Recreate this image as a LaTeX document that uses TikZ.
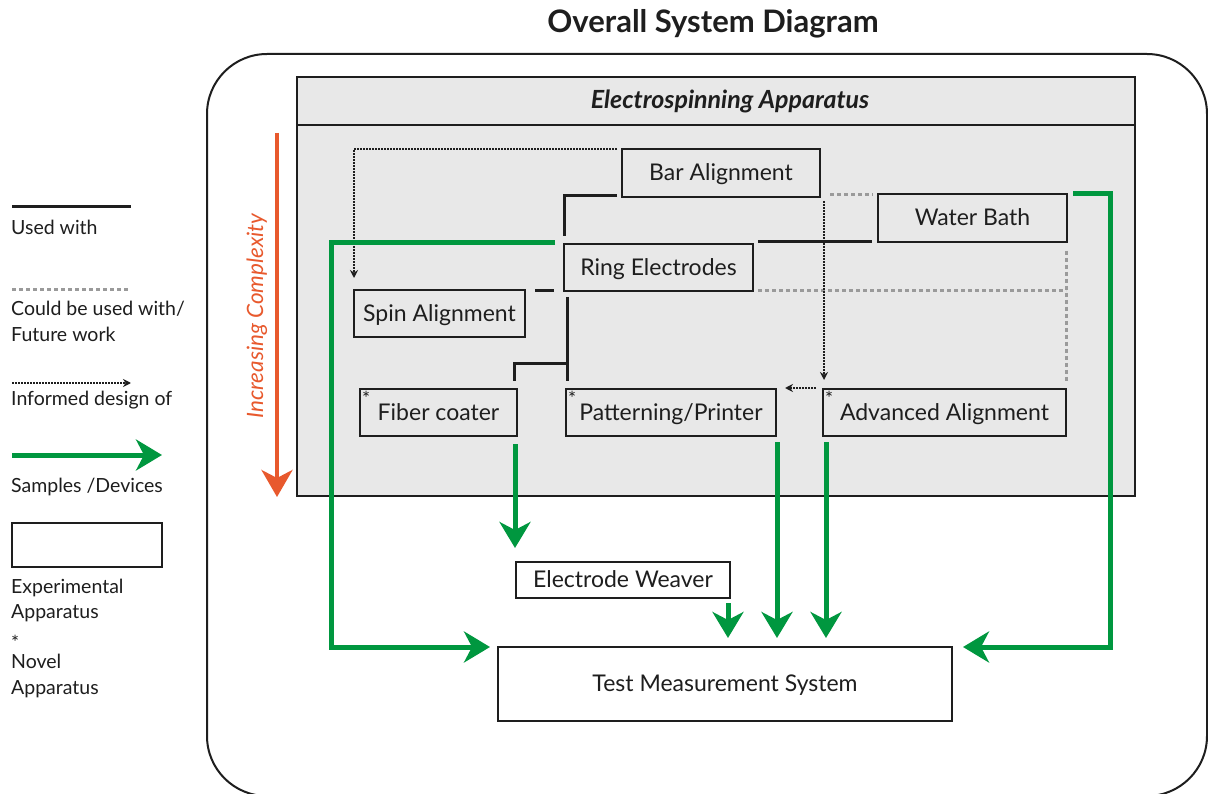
\documentclass[tikz,border=0pt]{standalone}
\usepackage{fontspec}
\setmainfont{Lato}
\usetikzlibrary{arrows.meta,calc}

\definecolor{panelgray}{HTML}{E8E8E8}
\definecolor{linkgreen}{HTML}{00973F}
\definecolor{cplxorange}{HTML}{E8592D}
\definecolor{futuregray}{HTML}{9A9A9A}
\definecolor{ink}{HTML}{1E1E1E}

\begin{document}
\begin{tikzpicture}[x=1pt,y=-1pt,
  panel/.style={draw=ink, line width=2pt, fill=panelgray, inner sep=0pt, outer sep=0pt},
  unitbox/.style={draw=ink, line width=2pt, fill=panelgray, inner sep=0pt, outer sep=0pt,
    text=ink, font=\fontsize{23}{26}\selectfont, text height=16.5pt, text depth=1pt},
  outbox/.style={unitbox, fill=white},
  novelmark/.style={anchor=north west, inner sep=0pt, text=ink,
    font=\fontsize{19}{19}\selectfont},
  legendtext/.style={anchor=base west, inner sep=0pt, text=ink,
    font=\fontsize{19.5}{22}\selectfont},
  usedwith/.style={draw=ink, line width=3pt},
  future/.style={draw=futuregray, line width=3pt, dash pattern=on 4pt off 3pt},
  informed/.style={draw=ink, line width=1.6pt, dash pattern=on 1.6pt off 1.4pt,
    -{Stealth[length=8pt,width=8pt]}},
  sample/.style={draw=linkgreen, line width=5pt,
    -{Stealth[length=26pt,width=31pt,inset=8pt]}},
  cplx/.style={draw=cplxorange, line width=4pt,
    -{Stealth[length=27pt,width=31pt,inset=8pt]}},
]
\useasboundingbox (0,0) rectangle (1208,794);
\fill[white] (0,0) rectangle (1208,794);

% title and outer frame
\node[anchor=base, inner sep=0pt, text=ink,
  font=\bfseries\fontsize{31}{34}\selectfont] (title) at (713,33) {Overall System Diagram};
\node[draw=ink, line width=2pt, rounded corners=60pt, minimum width=1000pt,
  minimum height=742pt, inner sep=0pt] (frame) at (707,425) {};

% electrospinning panel
\node[panel, minimum width=838pt, minimum height=48pt] (hdr) at (716,101) {};
\node[panel, minimum width=838pt, minimum height=371pt, anchor=north] (body) at (hdr.south) {};
\node[inner sep=0pt, text=ink, font=\bfseries\itshape\fontsize{25}{28}\selectfont,
  text height=17pt, text depth=1pt] (hdrtitle) at (730,101) {Electrospinning Apparatus};

% complexity arrow
\coordinate (cplxtop) at (277,133);
\coordinate (cplxbot) at (277,497);
\draw[cplx] (cplxtop) -- (cplxbot);
\node[rotate=90, inner sep=0pt, text=cplxorange,
  font=\itshape\fontsize{22.5}{24}\selectfont] (cplxlabel) at (257,316) {Increasing Complexity};

% apparatus boxes
\node[unitbox, minimum width=198pt, minimum height=48pt] (bar) at (721,173) {Bar Alignment};
\node[unitbox, minimum width=189pt, minimum height=48pt] (wb) at (972.5,218) {Water Bath};
\node[unitbox, minimum width=189pt, minimum height=47pt] (ring) at (658.5,267.5) {Ring Electrodes};
\node[unitbox, minimum width=171pt, minimum height=47pt] (spin) at (439.5,313.5) {Spin Alignment};
\node[unitbox, minimum width=157pt, minimum height=47pt] (fc) at (438.5,412.5) {Fiber coater};
\node[unitbox, minimum width=210pt, minimum height=47pt] (pp) at (671,412.5) {Patterning/Printer};
\node[unitbox, minimum width=243pt, minimum height=47pt] (adv) at (944.5,412.5) {Advanced Alignment};
\node[outbox, minimum width=214pt, minimum height=36pt] (ew) at (623,580) {Electrode Weaver};
\node[outbox, minimum width=454pt, minimum height=74pt] (tms) at (725,684) {Test Measurement System};

\node[novelmark] (fcnovel) at ($(fc.north west)+(2,2)$) {*};
\node[novelmark] (ppnovel) at ($(pp.north west)+(2,2)$) {*};
\node[novelmark] (advnovel) at ($(adv.north west)+(2,2)$) {*};

% used with
\draw[usedwith] ($(bar.south west)+(-5,-1)$) -| ($(ring.north west)+(0,-8)$);
\draw[usedwith] ($(spin.east |- ring.south)+(10,0)$) -- ($(ring.south west)+(-10,0)$);
\coordinate (jn) at ($(ring.south west)+(3,73)$);
\draw[usedwith] ($(ring.south west)+(3,6)$) -- ($(ring.south west |- pp.north)+(3,-8)$);
\draw[usedwith] (jn) -| ($(fc.north east)+(-3,-8)$);
\draw[usedwith] ($(ring.north east)+(5,-2)$) -- ($(wb.south west)+(-6,0)$);

% could be used with / future work
\draw[future] ($(bar.east |- wb.north)+(10,1)$) -- ($(wb.north west)+(-5,1)$);
\draw[future] ($(wb.south east)+(-1,9)$) -- ($(adv.north east)+(0,-8)$);
\draw[future] ($(ring.south east)+(5,0)$) -- (ring.south east -| adv.north east);

% informed design of
\draw[informed] ($(bar.north west)+(-5,0)$) -| ($(spin.north west)+(0,-12)$);
\draw[informed] ($(bar.south east)+(4,4)$) -- ($(adv.north west)+(1,-9)$);
\draw[informed] ($(adv.north west)+(-7,-1)$) -- ($(pp.north east)+(9,-1)$);

% samples / devices
\draw[sample] ($(ring.north west)+(-9,-1)$) -| ($(tms.north west)+(-167,0)$) -- ($(tms.north west)+(-8,0)$);
\draw[sample] ($(wb.north east)+(6,0)$) -| ($(tms.north east)+(158,0)$) -- ($(tms.north east)+(11,0)$);
\draw[sample] ($(fc.south east)+(-2,8)$) -- ($(fc.south east |- ew.north)+(-2,-14)$);
\draw[sample] ($(ew.south east)+(-2,5)$) -- ($(ew.south east |- tms.north)+(-2,-9)$);
\draw[sample] ($(pp.south east)+(1,6)$) -- ($(pp.south east |- tms.north)+(1,-9)$);
\draw[sample] ($(adv.south west)+(3,6)$) -- ($(adv.south west |- tms.north)+(3,-9)$);

% legend
\coordinate (lgusedA) at (12,207);   \coordinate (lgusedB) at (131,207);
\coordinate (lgfutA) at (12,290);    \coordinate (lgfutB) at (130,290);
\coordinate (lginfA) at (12,383);    \coordinate (lginfB) at (131,383);
\coordinate (lgsamA) at (12,455);    \coordinate (lgsamB) at (162,455);
\draw[usedwith] (lgusedA) -- (lgusedB);
\draw[future] (lgfutA) -- (lgfutB);
\draw[informed] (lginfA) -- (lginfB);
\draw[sample] (lgsamA) -- (lgsamB);
\node[draw=ink, line width=2pt, fill=white, minimum width=150pt, minimum height=44pt,
  inner sep=0pt, outer sep=0pt] (lgbox) at (87,545) {};

\node[legendtext] (lgt1) at (11,235) {Used with};
\node[legendtext] (lgt2) at (11,316) {Could be used with/};
\node[legendtext] (lgt3) at (11,342) {Future work};
\node[legendtext] (lgt4) at (11,406) {Informed design of};
\node[legendtext] (lgt5) at (11,492) {Samples /Devices};
\node[legendtext] (lgt6) at (11,593) {Experimental};
\node[legendtext] (lgt7) at (11,618) {Apparatus};
\node[legendtext, font=\fontsize{19}{20}\selectfont] (lgt8) at (11,649) {*};
\node[legendtext] (lgt9) at (11,668) {Novel};
\node[legendtext] (lgt10) at (11,694) {Apparatus};
\end{tikzpicture}
\end{document}
